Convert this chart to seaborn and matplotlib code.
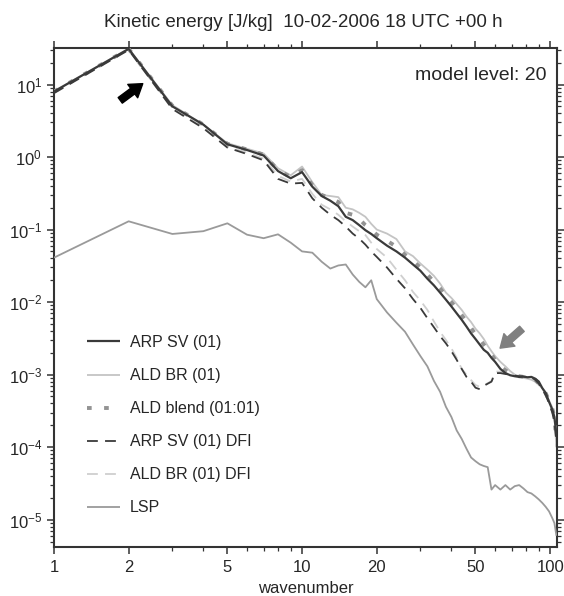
import numpy as np
import pandas as pd
import matplotlib
matplotlib.use("Agg")
import matplotlib.pyplot as plt
import matplotlib.ticker as mticker
from matplotlib.patches import FancyArrowPatch
import seaborn as sns

# ---- data (kinetic energy spectra, level 20) ----
wavenumber = list(range(1, 21)) + list(range(22, 61, 2)) + [63, 66, 69, 72, 75, 78, 81, 84, 87, 90, 93, 96, 99, 102, 104, 106]

arp_sv = [8.0, 31, 5.0, 2.8, 1.5, 1.25, 1.05, 0.64, 0.51, 0.62,
          0.39, 0.29, 0.25, 0.21, 0.15, 0.135, 0.115, 0.098, 0.087, 0.076,
          0.06, 0.05, 0.041, 0.033, 0.027, 0.021, 0.017, 0.0135, 0.0108, 0.0087,
          0.0070, 0.0057, 0.0046, 0.0037, 0.0031, 0.0026, 0.0022, 0.0020, 0.0017, 0.0015,
          0.0012, 0.00105, 0.00098, 0.00095, 0.00093, 0.00094, 0.00092, 0.00093, 0.00088, 0.0008,
          0.00065, 0.00056, 0.00042, 0.00033, 0.00026, 0.00015]

ald_br = [8.1, 31, 5.2, 2.8, 1.55, 1.3, 1.12, 0.7, 0.56, 0.74,
          0.45, 0.3, 0.29, 0.28, 0.2, 0.19, 0.17, 0.15, 0.12, 0.1,
          0.088, 0.074, 0.05, 0.043, 0.034, 0.028, 0.023, 0.018, 0.0135, 0.0114,
          0.0094, 0.0078, 0.0063, 0.0053, 0.0043, 0.0037, 0.0031, 0.0025, 0.0021, 0.0018,
          0.0015, 0.0013, 0.00112, 0.001, 0.00095, 0.0009, 0.00088, 0.00085, 0.0008, 0.00072,
          0.00065, 0.00052, 0.00044, 0.00035, 0.00026, 0.0001]

ald_blend = [8.0, 31, 5.1, 2.8, 1.52, 1.27, 1.08, 0.66, 0.53, 0.66,
             0.41, 0.3, 0.27, 0.24, 0.17, 0.16, 0.14, 0.115, 0.1, 0.085,
             0.07, 0.058, 0.045, 0.037, 0.03, 0.024, 0.019, 0.0155, 0.012, 0.0100,
             0.0081, 0.0066, 0.0054, 0.0044, 0.0036, 0.0031, 0.0026, 0.0022, 0.0019, 0.0016,
             0.0013, 0.00115, 0.00104, 0.00098, 0.00095, 0.00093, 0.0009, 0.0009, 0.00085, 0.00076,
             0.00066, 0.00055, 0.00044, 0.00034, 0.00026, 0.00012]

arp_sv_dfi = [7.6, 30, 4.6, 2.5, 1.35, 1.1, 0.9, 0.5, 0.43, 0.44,
              0.27, 0.2, 0.16, 0.135, 0.11, 0.088, 0.075, 0.062, 0.05, 0.042,
              0.03, 0.021, 0.0155, 0.011, 0.0083, 0.006, 0.0045, 0.0034, 0.0027, 0.0021,
              0.0016, 0.0012, 0.00093, 0.0008, 0.00066, 0.00063, 0.0007, 0.00075, 0.0008, 0.00105,
              0.00105, 0.00102, 0.001, 0.00097, 0.00095, 0.00094, 0.00093, 0.00092, 0.00085, 0.00075,
              0.00062, 0.00052, 0.0004, 0.0003, 0.00022, 0.00012]

ald_br_dfi = [7.8, 30, 4.8, 2.6, 1.4, 1.15, 0.95, 0.55, 0.46, 0.5,
              0.31, 0.22, 0.19, 0.16, 0.13, 0.11, 0.095, 0.084, 0.066, 0.054,
              0.041, 0.028, 0.02, 0.0138, 0.0105, 0.0078, 0.0054, 0.0039, 0.003, 0.0023,
              0.0017, 0.0012, 0.001, 0.00084, 0.00072, 0.00068, 0.00072, 0.00076, 0.00082, 0.0011,
              0.0011, 0.00105, 0.001, 0.00097, 0.00095, 0.00092, 0.0009, 0.00088, 0.00082, 0.00074,
              0.00064, 0.00052, 0.00042, 0.00032, 0.00024, 0.0001]

lsp = [0.041, 0.13, 0.087, 0.095, 0.122, 0.085, 0.076, 0.086, 0.066, 0.05,
       0.048, 0.036, 0.029, 0.032, 0.033, 0.024, 0.019, 0.016, 0.02, 0.011,
       0.0072, 0.0052, 0.0039, 0.0026, 0.0018, 0.0013, 0.00082, 0.00058, 0.00036, 0.00026,
       0.00017, 0.00013, 9.5e-5, 7.2e-5, 6.4e-5, 5.8e-5, 5.5e-5, 5.3e-5, 2.6e-5, 3.0e-5,
       2.6e-5, 3.0e-5, 2.6e-5, 2.9e-5, 3.0e-5, 2.7e-5, 2.4e-5, 2.3e-5, 2.1e-5, 1.9e-5,
       1.7e-5, 1.5e-5, 1.3e-5, 1.05e-5, 9e-6, 6e-6]

series_names = ["ARP SV (01)", "ALD BR (01)", "ALD blend (01:01)",
                "ARP SV (01) DFI", "ALD BR (01) DFI", "LSP"]
xtick_values = [1, 2, 5, 10, 20, 50, 100]
xtick_minor = [3, 4, 6, 7, 8, 9, 30, 40, 60, 70, 80, 90]
ytick_values = [1e-5, 1e-4, 1e-3, 1e-2, 1e-1, 1e0, 1e1]

df = pd.DataFrame({"wavenumber": wavenumber,
                   "ARP SV (01)": arp_sv,
                   "ALD BR (01)": ald_br,
                   "ALD blend (01:01)": ald_blend,
                   "ARP SV (01) DFI": arp_sv_dfi,
                   "ALD BR (01) DFI": ald_br_dfi,
                   "LSP": lsp})
long_df = df.melt(id_vars="wavenumber", var_name="run", value_name="energy")

# ---- styling ----
sns.set_style("ticks")
plt.rcParams["font.family"] = ["Liberation Sans", "DejaVu Sans"]
plt.rcParams["mathtext.default"] = "regular"

styles = {
    "ARP SV (01)":       dict(color="#3a3a3a", lw=1.6, ls="-", z=6),
    "ALD BR (01)":       dict(color="#c4c4c4", lw=1.3, ls="-", z=2),
    "ALD blend (01:01)": dict(color="#939393", lw=2.8, ls=(0, (1.2, 3.2)), z=4),
    "ARP SV (01) DFI":   dict(color="#3a3a3a", lw=1.3, ls=(0, (6, 4)), z=5),
    "ALD BR (01) DFI":   dict(color="#cfcfcf", lw=1.3, ls=(0, (6, 4)), z=1),
    "LSP":               dict(color="#9a9a9a", lw=1.3, ls="-", z=3),
}

fig = plt.figure(figsize=(5.64, 5.96), dpi=100)
ax = fig.add_axes([0.0957, 0.0822, 0.8927, 0.8368])

for name in series_names:
    st = styles[name]
    sub = long_df[long_df["run"] == name]
    sns.lineplot(data=sub, x="wavenumber", y="energy", ax=ax, label=name,
                 color=st["color"], linewidth=st["lw"], linestyle=st["ls"],
                 zorder=st["z"], solid_capstyle="butt", dash_capstyle="butt")

ax.set_xscale("log")
ax.set_yscale("log")
ax.set_xlim(1, 107)
ax.set_ylim(4.2e-6, 31.6)

ax.xaxis.set_major_locator(mticker.FixedLocator(xtick_values))
ax.xaxis.set_major_formatter(mticker.FixedFormatter([str(v) for v in xtick_values]))
ax.xaxis.set_minor_locator(mticker.FixedLocator(xtick_minor))
ax.xaxis.set_minor_formatter(mticker.NullFormatter())
ax.yaxis.set_major_locator(mticker.FixedLocator(ytick_values))
ax.yaxis.set_major_formatter(mticker.LogFormatterSciNotation())
ax.yaxis.set_minor_locator(mticker.LogLocator(base=10, subs=np.arange(2, 10), numticks=20))
ax.yaxis.set_minor_formatter(mticker.NullFormatter())

ax.tick_params(which="both", direction="out", top=True, right=True,
               labeltop=False, labelright=False, color="#333333",
               labelsize=12)
ax.tick_params(axis="x", pad=4)
ax.tick_params(which="major", length=5, width=1.1)
ax.tick_params(which="minor", length=3, width=0.9)
for sp in ax.spines.values():
    sp.set_linewidth(1.5)
    sp.set_color("#333333")

ax.set_xlabel("wavenumber", fontsize=12, labelpad=5)
ax.yaxis.label.set_visible(False)

fig.text(0.537, 0.963, "Kinetic energy [J/kg]  10-02-2006 18 UTC +00 h",
         ha="center", va="center", fontsize=13.5)
ax.text(0.978, 0.946, "model level: 20", transform=ax.transAxes,
        ha="right", va="center", fontsize=14)

# arrows pointing at the spectra
black_arrow = FancyArrowPatch((118 / 564, 1 - 102 / 596), (145 / 564, 1 - 82 / 596),
                              transform=fig.transFigure, color="black",
                              arrowstyle="simple,head_length=9,head_width=12,tail_width=5",
                              mutation_scale=1, zorder=10)
gray_arrow = FancyArrowPatch((524 / 564, 1 - 327 / 596), (498 / 564, 1 - 350 / 596),
                             transform=fig.transFigure, color="#808080",
                             arrowstyle="simple,head_length=9,head_width=12,tail_width=5",
                             mutation_scale=1, zorder=10)
fig.patches.append(black_arrow)
fig.patches.append(gray_arrow)

ax.legend(loc="upper left", bbox_to_anchor=(0.065, 0.425), frameon=False,
          fontsize=11.5, handlelength=2.1, handletextpad=0.6,
          labelspacing=1.13, borderaxespad=0, borderpad=0)

fig.savefig("out.png", dpi=100)
